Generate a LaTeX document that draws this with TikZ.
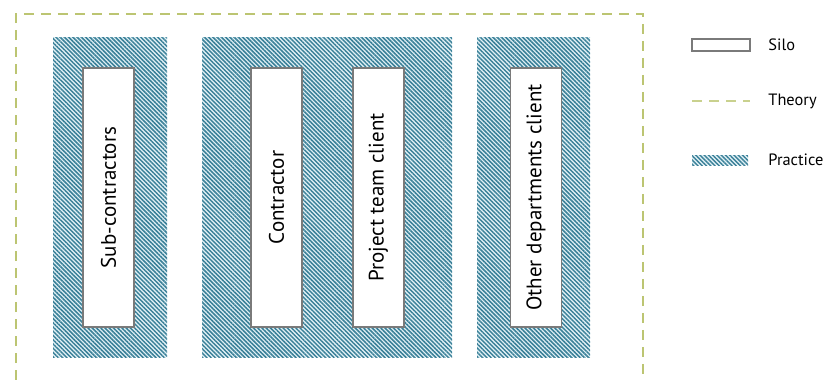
\documentclass[tikz,border=0pt]{standalone}
\usepackage{fontspec}
\setmainfont{PT Sans}
\usetikzlibrary{patterns.meta,positioning}
\definecolor{SiloGrey}{HTML}{7A7A7A}
\definecolor{TheoryGreen}{HTML}{BCC572}
\definecolor{PracticeTeal}{HTML}{3A8098}
\definecolor{PracticeMist}{HTML}{E2F1F6}

\begin{document}
\begin{tikzpicture}[x=0.5pt,y=-0.5pt,
    practice/.style={inner sep=0pt, minimum height=160pt,
      preaction={fill=PracticeMist},
      pattern={Lines[angle=-45,distance=1.5pt,line width=0.75pt]}, pattern color=PracticeTeal},
    silo/.style={draw=SiloGrey, line width=0.9pt, fill=white, inner sep=0pt,
      minimum width=25.5pt, minimum height=129.5pt},
    silotext/.style={rotate=90, font=\fontsize{10.5}{12}\selectfont},
    theory/.style={draw=TheoryGreen, line width=1pt, dash pattern=on 5pt off 3.5pt},
    legtext/.style={anchor=west, inner sep=0pt, font=\fontsize{8.2}{10}\selectfont}]
    \useasboundingbox (0,0) rectangle (827,380);

    % theory frame, open at the bottom
    \draw[theory] (16,380) -- (16,14) -- (643,14) -- (643,380);

    % practice areas
    \node[practice, minimum width=57pt] (subarea) at (110,197) {};
    \node[practice, minimum width=125pt] (mainarea) at (327,197) {};
    \node[practice, minimum width=56.5pt] (otherarea) at (533.5,197) {};

    % silos
    \node[silo] (sub) at (108.5,197.5) {};
    \node[silotext] at (sub.center) {Sub-contractors};
    \node[silo] (contractor) at (276.5,197.5) {};
    \node[silotext] at (contractor.center) {Contractor};
    \node[silo] (project) at (378.5,197.5) {};
    \node[silotext] at (project.center) {Project team client};
    \node[silo] (other) at (536,197.5) {};
    \node[silotext] at (other.center) {Other departments client};

    % legend
    \node[silo, minimum width=29pt, minimum height=6pt] (legsilo) at (721,45) {};
    \node[legtext] (legsilotext) at (768,45) {Silo};
    \coordinate (legtheoryA) at (692,101);
    \coordinate (legtheoryB) at (750,101);
    \draw[theory, draw=TheoryGreen!80] (legtheoryA) -- (legtheoryB);
    \node[legtext] (legtheorytext) at (768,101) {Theory};
    \node[practice, minimum width=28pt, minimum height=5pt] (legpractice) at (720,160) {};
    \node[legtext] (legpracticetext) at (768,160) {Practice};
\end{tikzpicture}
\end{document}
